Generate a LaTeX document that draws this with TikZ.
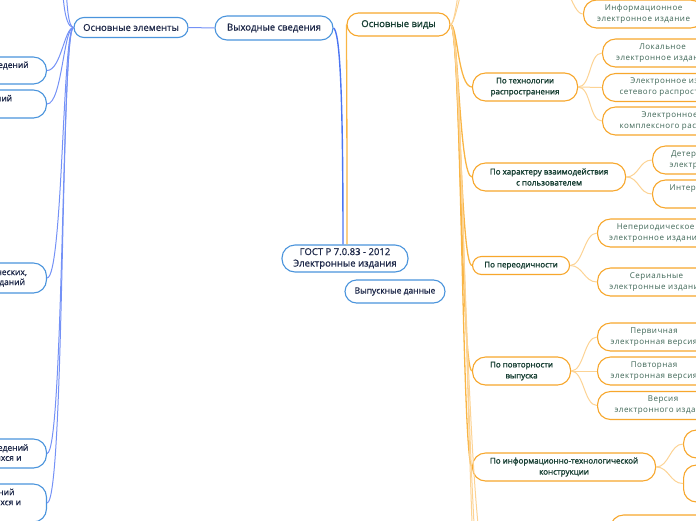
\documentclass[tikz,border=0pt]{standalone}
\usepackage{fontspec}
\setmainfont{Open Sans}
\newfontfamily\leaffont{Open Sans}[LetterSpace=6]
\newfontfamily\medfont{Open Sans}[FakeBold=0.7]
\newfontfamily\semifont{Open Sans}[FakeBold=1.6]
\definecolor{bluebrd}{HTML}{4A94DC}
\definecolor{blueln}{HTML}{4B74F2}
\definecolor{bluelt}{HTML}{7491F6}
\definecolor{navy}{HTML}{1B2647}
\definecolor{orbrd}{HTML}{F7A72C}
\definecolor{orln}{HTML}{F9B544}
\definecolor{orlt}{HTML}{FCD394}
\definecolor{darkgreen}{HTML}{173F33}
\definecolor{leafgreen}{HTML}{3E6656}
\tikzset{
  pill/.style={rounded corners=13pt, line width=1.1pt, fill=white, align=center, inner sep=0pt},
  bluebox/.style={pill, draw=bluebrd, text=navy, font=\medfont\fontsize{9.5}{11.5}\selectfont},
  sidebox/.style={pill, draw=bluebrd, text=navy, font=\medfont\fontsize{8.5}{10}\selectfont},
  orbox/.style={pill, draw=orbrd, text=darkgreen, font=\semifont\fontsize{9.5}{11}\selectfont},
  catbox/.style={pill, draw=orbrd, text=darkgreen, font=\semifont\fontsize{8}{11}\selectfont, minimum height=28pt, anchor=west},
  leafbox/.style={pill, draw=orbrd, text=leafgreen, font=\leaffont\fontsize{8}{11}\selectfont, minimum height=28pt, inner xsep=17pt, anchor=west},
  bline/.style={draw=blueln, line width=1.4pt},
  blight/.style={draw=bluelt, line width=1pt},
  oline/.style={draw=orln, line width=1.3pt},
  olight/.style={draw=orlt, line width=1pt}
}
\begin{document}
\begin{tikzpicture}[x=1pt,y=-1pt]
\path[use as bounding box, clip] (0,0) rectangle (696,520);

% root and main branches
\node[bluebox, minimum width=126pt, minimum height=27pt] (gost) at (345,258.5) {ГОСТ Р 7.0.83 - 2012\\Электронные издания};
\node[sidebox, minimum width=100pt, minimum height=23pt, rounded corners=11.5pt] (vyp) at (395,291.5) {Выпускные данные};
\node[bluebox, minimum width=118pt, minimum height=24pt, rounded corners=12pt] (vyh) at (274,28) {Выходные сведения};
\node[bluebox, minimum width=114pt, minimum height=20pt, rounded corners=10pt] (osnel) at (131,27.5) {Основные элементы};
\node[orbox, minimum width=103pt, minimum height=23pt, rounded corners=11.5pt] (osv) at (398.5,24.5) {Основные виды};

% blue side, left column
\node[sidebox, anchor=east, minimum width=182pt, minimum height=27pt] (el1) at (47,70.5) {Расположение выходных сведений\\в издании};
\node[sidebox, anchor=east, minimum width=209pt, minimum height=28pt] (el2) at (47,104) {Оформление выходных сведений\\изданий};
\node[sidebox, anchor=east, minimum width=155pt, minimum height=30pt] (el3) at (47,278) {Сведения о периодических,\\продолжающихся изданий};
\node[sidebox, anchor=east, minimum width=177pt, minimum height=29pt] (el4) at (47,453.5) {Особенности выходных сведений\\журналов, продолжающихся и};
\node[sidebox, anchor=east, minimum width=178pt, minimum height=38pt] (el5) at (47,503) {Состав выходных сведений\\журналов, продолжающихся и\\других изданий};
\coordinate (bup1) at (62,-40);
\coordinate (bup2) at (66,-90);

% orange side, categories
\node[catbox, minimum width=105pt] (tech) at (472,87) {По технологии\\распространения};
\node[catbox, minimum width=153pt] (har) at (472,177) {По характеру взаимодействия\\с пользователем};
\node[catbox, minimum width=97pt, minimum height=18pt, rounded corners=9pt] (per) at (472,265.5) {По переодичности};
\node[catbox, minimum width=98pt] (povt) at (472,371) {По повторности\\выпуска};
\node[catbox, minimum width=183pt] (konstr) at (472,467) {По информационно-технологической\\конструкции};
\coordinate (oup1) at (490,-60);
\coordinate (oup2) at (490,-130);
\coordinate (odn1) at (490,580);
\coordinate (odn2) at (490,650);
\coordinate (odn3) at (490,720);
\coordinate (infpar) at (545,-30);

% orange side, leaves
\node[leafbox, minimum width=120pt, inner xsep=0pt] (info) at (583,14) {Информационное\\электронное издание};
\node[leafbox, minimum width=120pt, inner xsep=0pt] (lok) at (602,53) {Локальное\\электронное издание};
\node[leafbox] (setev) at (602,87.5) {Электронное издание\\сетевого распространения};
\node[leafbox] (kompl) at (602,121) {Электронное издание\\комплексного распространения};
\node[leafbox] (det) at (652,160) {Детерминированное\\электронное издание};
\node[leafbox] (inter) at (652,194) {Интерактивное электронное\\издание};
\node[leafbox, minimum width=116pt, inner xsep=0pt] (neper) at (597,233) {Непериодическое\\электронное издание};
\node[leafbox, minimum width=118pt, inner xsep=0pt] (ser) at (597,282) {Сериальные\\электронные издания};
\node[leafbox, minimum width=113pt, inner xsep=0pt] (perv) at (597,337) {Первичная\\электронная версия};
\node[leafbox, minimum width=113pt, inner xsep=0pt] (povtv) at (597,371) {Повторная\\электронная версия};
\node[leafbox] (vers) at (597,405.5) {Версия\\электронного издания};
\node[leafbox, minimum width=100pt] (it1) at (683,444) {};
\node[leafbox, minimum width=100pt, minimum height=37pt] (it2) at (683,483.5) {};
\node[leafbox, minimum width=120pt] (niz) at (610,529) {};

% connectors
\draw[bline] (vyh.east) .. controls +(6,4) and +(0,-160) .. ([xshift=-2pt]gost.north);
\draw[oline] ([xshift=2pt]gost.north) .. controls +(0,-160) and +(0,30) .. (osv.west);
\draw[blight] (osnel.east) -- (vyh.west);
\foreach \e/\k in {el1/0,el2/1,el3/2,el4/3,el5/4}
  \draw[blight] (osnel.west) .. controls +(-9-\k,0) and +(14+\k,0) .. (\e.east);
\foreach \e in {bup1,bup2}
  \draw[blight] (osnel.west) .. controls +(-10,0) and +(0,30) .. (\e);
\foreach \c/\k in {tech/0,har/1,per/2,povt/3,konstr/4}
  \draw[oline] (osv.east) .. controls +(7+\k,0) and +(-14+\k,0) .. (\c.west);
\foreach \c/\k in {oup1/0,oup2/2,odn1/5,odn2/7,odn3/9}
  \draw[olight] (osv.east) .. controls +(7+\k,0) and +(-24,0) .. (\c);
\draw[olight] (infpar) .. controls +(22,0) and +(-12,0) .. (info.west);
\foreach \a/\b in {tech/lok,tech/setev,tech/kompl,har/det,har/inter,per/neper,per/ser,povt/perv,povt/povtv,povt/vers,konstr/it1,konstr/it2}
  \draw[olight] (\a.east) .. controls +(13,0) and +(-13,0) .. (\b.west);
\end{tikzpicture}
\end{document}
